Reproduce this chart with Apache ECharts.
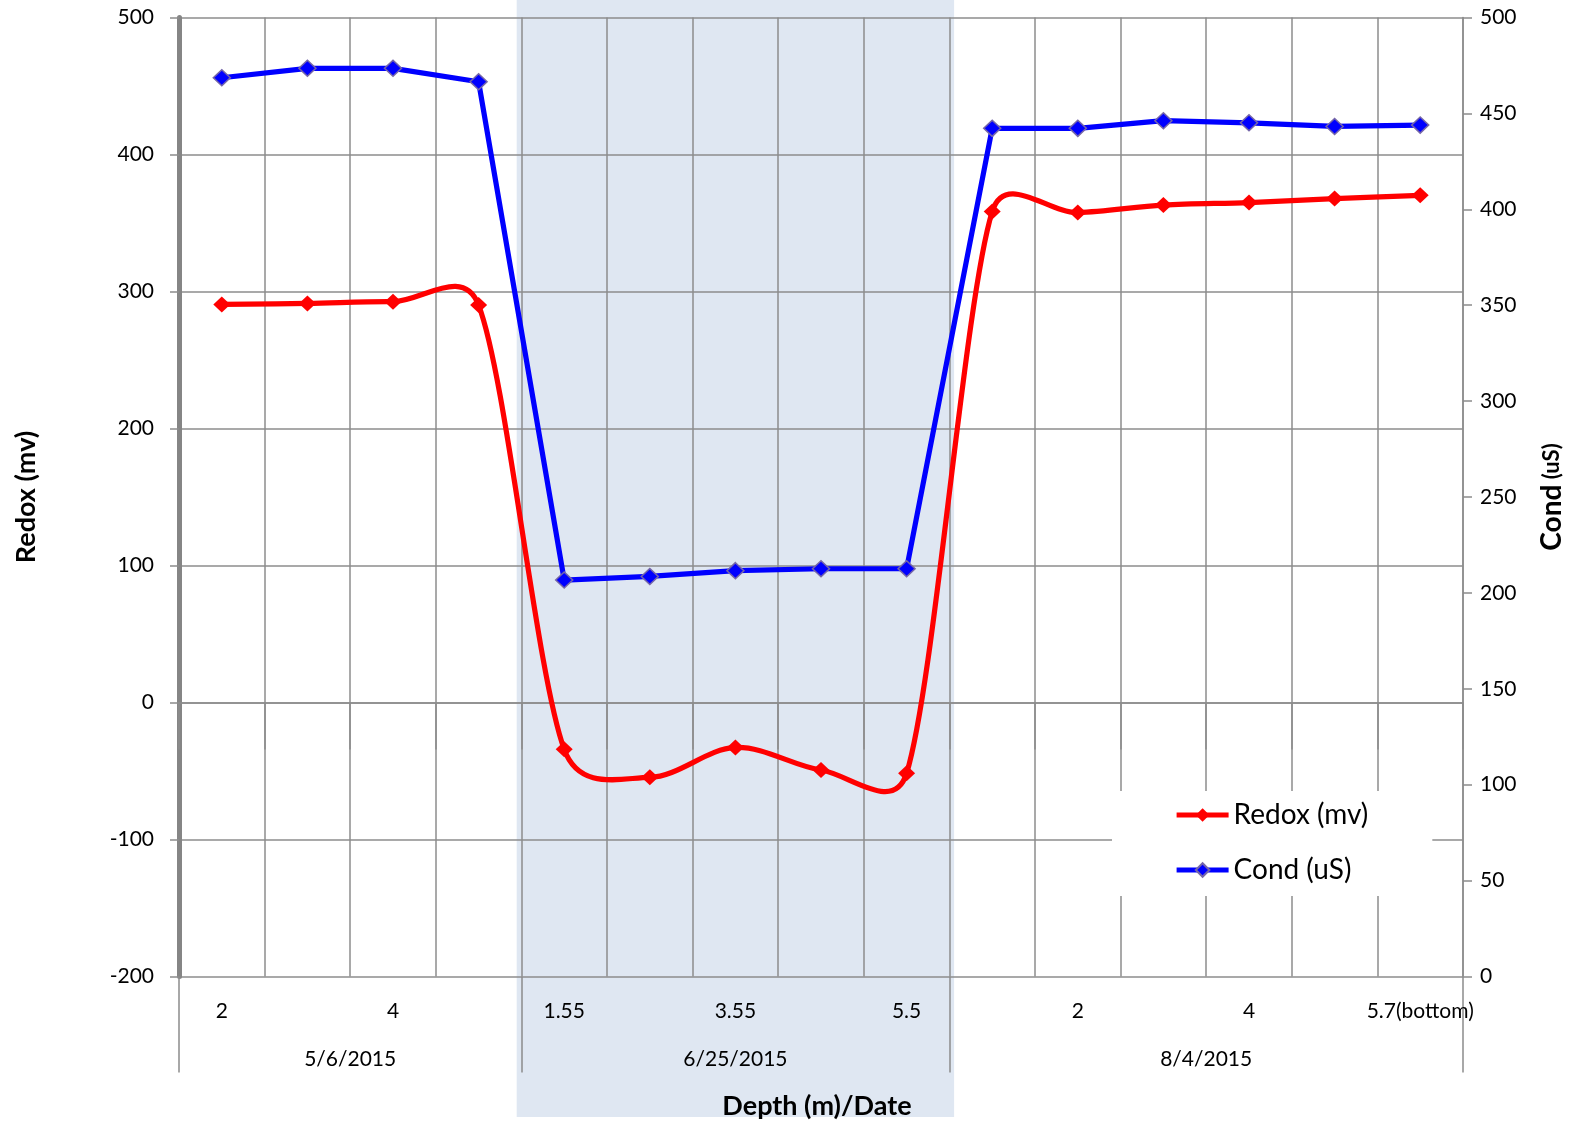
<!DOCTYPE html>
<html><head><meta charset="utf-8">
<script src="https://cdn.jsdelivr.net/npm/echarts@6/dist/echarts.min.js"></script>
<style>html,body{margin:0;padding:0;background:#fff}#c{width:1575px;height:1125px}</style>
</head><body><div id="c"></div>
<script>
// ---- data ----
const depthLabels = ['2','','4','','1.55','','3.55','','5.5','','2','','4','','5.7(bottom)'];
const dates = ['5/6/2015','6/25/2015','8/4/2015'];
const groupSizes = [4,5,6];
const redox = [290.6, 291.3, 292.6, 290.1, -34.2, -54.6, -32.8, -49.3, -51.7, 358.4, 357.6, 363.1, 364.9, 367.8, 370.2];
const cond = [468.6, 473.5, 473.5, 466.5, 206.7, 208.6, 211.6, 212.6, 212.6, 442.2, 442.2, 446.2, 445.1, 443.2, 443.9];
const shadedGroup = 1; // 6/25/2015 block highlighted

// ---- build group axis (half-category slots) ----
const slots = new Array(2 * depthLabels.length + 1).fill('');
const bounds = [0];
let acc = 0;
groupSizes.forEach((n, i) => { slots[2 * acc + n] = dates[i]; acc += n; bounds.push(2 * acc); });

const FONT = 'Lato';
const GRID = '#8c8c8c';
const RED = '#ff0000', BLUE = '#0000ff';
const LW = 5.2;
const chart = echarts.init(document.getElementById('c'), null, {renderer: 'canvas'});

// Excel-style smoothed segment (Bezier, tangent 1/6 capped to half segment length)
function smoothSegment(params, api) {
  const i = params.dataIndex;
  const n = redox.length;
  if (i >= n - 1) return null;
  const P = (k) => api.coord([k, redox[k]]);
  const p0 = P(i), p1 = P(i + 1);
  const pm = i > 0 ? P(i - 1) : p0;
  const pp = i + 2 < n ? P(i + 2) : p1;
  const t0 = [p1[0] - pm[0], p1[1] - pm[1]];
  const t1 = [pp[0] - p0[0], pp[1] - p0[1]];
  const seg = Math.hypot(p1[0] - p0[0], p1[1] - p0[1]);
  const l0 = Math.hypot(t0[0], t0[1]), l1 = Math.hypot(t1[0], t1[1]);
  const s0 = l0 > 0 ? Math.min(1 / 6, seg / 2 / l0) : 0;
  const s1 = l1 > 0 ? Math.min(1 / 6, seg / 2 / l1) : 0;
  return {
    type: 'bezierCurve',
    shape: {
      x1: p0[0], y1: p0[1], x2: p1[0], y2: p1[1],
      cpx1: p0[0] + t0[0] * s0, cpy1: p0[1] + t0[1] * s0,
      cpx2: p1[0] - t1[0] * s1, cpy2: p1[1] - t1[1] * s1
    },
    style: {stroke: RED, lineWidth: LW, fill: null, lineCap: 'round'}
  };
}

const option = {
  animation: false,
  backgroundColor: '#fff',
  textStyle: {fontFamily: FONT},
  grid: {left: 179, right: 112, top: 17.5, bottom: 148.5, containLabel: false},
  legend: {
    orient: 'vertical', left: 1112, top: 791,
    backgroundColor: '#fff', padding: [10, 64, 12, 62],
    itemWidth: 52, itemHeight: 17, itemGap: 27,
    textStyle: {fontSize: 28, color: '#000', fontFamily: FONT},
    data: [
      {name: 'Redox (mv)', lineStyle: {opacity: 1, width: LW, color: RED}},
      {name: 'Cond (uS)', lineStyle: {opacity: 1, width: LW, color: BLUE}}
    ]
  },
  xAxis: [{
    type: 'category', data: depthLabels, boundaryGap: true,
    axisLine: {lineStyle: {color: GRID, width: 1.5}},
    axisTick: {show: true, interval: 0, length: 47, lineStyle: {color: GRID, width: 1.5}},
    axisLabel: {interval: 0, margin: 24, fontSize: 21, color: '#000', fontFamily: FONT},
    splitLine: {show: true, interval: 0, lineStyle: {color: GRID, width: 1.5}},
    name: 'Depth (m)/Date', nameLocation: 'middle', nameGap: 116,
    nameTextStyle: {fontSize: 27, fontWeight: 'bold', color: '#000', fontFamily: FONT, padding: [0, 8, 0, 0]}
  }, {
    type: 'category', data: slots, boundaryGap: false, position: 'bottom',
    axisLine: {show: false},
    axisTick: {show: true, length: 96, interval: (i) => bounds.includes(i), lineStyle: {color: GRID, width: 1.5}},
    axisLabel: {interval: 0, margin: 72, fontSize: 21, color: '#000', fontFamily: FONT},
    splitLine: {show: false}
  }],
  yAxis: [{
    type: 'value', min: -200, max: 500, interval: 100, position: 'left',
    axisLine: {show: true, lineStyle: {color: '#858585', width: 5}},
    axisTick: {show: true, length: 9, lineStyle: {color: GRID, width: 1.5}},
    axisLabel: {margin: 25, fontSize: 21, color: '#000', fontFamily: FONT},
    splitLine: {show: true, lineStyle: {color: GRID, width: 1.5}},
    name: 'Redox (mv)', nameLocation: 'middle', nameRotate: 90, nameGap: 139,
    nameTextStyle: {fontSize: 27, fontWeight: 'bold', color: '#000', fontFamily: FONT}
  }, {
    type: 'value', min: 0, max: 500, interval: 50, position: 'right',
    axisLine: {show: true, lineStyle: {color: GRID, width: 1.5}},
    axisTick: {show: true, length: 9, lineStyle: {color: GRID, width: 1.5}},
    axisLabel: {margin: 17, fontSize: 21, color: '#000', fontFamily: FONT},
    splitLine: {show: false},
    name: '{a|Cond}{b| (uS)}', nameLocation: 'middle', nameRotate: 90, nameGap: 75,
    nameTextStyle: {color: '#000', fontFamily: FONT, rich: {
      a: {fontSize: 28, fontWeight: 'bold', color: '#000', fontFamily: FONT},
      b: {fontSize: 22, fontWeight: 'bold', color: '#000', fontFamily: FONT}
    }}
  }],
  series: [{
    type: 'custom', name: 'redoxCurve', xAxisIndex: 0, yAxisIndex: 0,
    data: redox.map((v, i) => [i, v]), renderItem: smoothSegment, silent: true, z: 2
  }, {
    name: 'Redox (mv)', type: 'line', data: redox, xAxisIndex: 0, yAxisIndex: 0,
    symbol: 'diamond', symbolSize: [17, 16], z: 3,
    lineStyle: {color: RED, width: LW, opacity: 0},
    itemStyle: {color: RED}
  }, {
    name: 'Cond (uS)', type: 'line', data: cond, xAxisIndex: 0, yAxisIndex: 1,
    symbol: 'diamond', symbolSize: [17, 16], z: 3,
    lineStyle: {color: BLUE, width: LW},
    itemStyle: {color: BLUE, borderColor: '#7566a8', borderWidth: 1.5}
  }]
};
chart.setOption(option);

// shaded block behind the middle date group, located from the category axis
const startIdx = groupSizes.slice(0, shadedGroup).reduce((a, b) => a + b, 0);
const endIdx = startIdx + groupSizes[shadedGroup] - 1;
const pA = chart.convertToPixel({xAxisIndex: 0}, startIdx);
const pB = chart.convertToPixel({xAxisIndex: 0}, endIdx);
const band = (pB - pA) / (endIdx - startIdx);
const x0 = pA - band / 2 - 4.7;
const x1 = pB + band / 2 + 4.7;
chart.setOption({
  graphic: [{
    type: 'rect', z: -10, silent: true,
    shape: {x: x0, y: 0, width: x1 - x0, height: 1117},
    style: {fill: '#dfe7f2'}
  }]
});
</script></body></html>
